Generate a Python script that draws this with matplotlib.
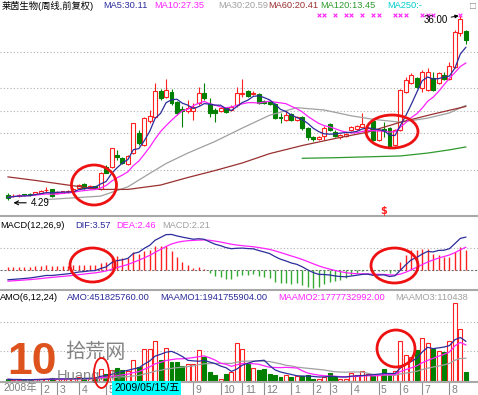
import numpy as np
import pandas as pd
import matplotlib
matplotlib.use('Agg')
import matplotlib.pyplot as plt
from matplotlib.patches import Ellipse, Rectangle
from matplotlib.transforms import blended_transform_factory

plt.rcParams['font.family'] = ['Liberation Sans', 'Noto Sans CJK SC']

# ---------------- data (weekly) ----------------
opens = [5.19, 4.95, 5.00, 5.30, 5.40, 5.30, 5.50, 6.00, 6.15, 5.50,
         5.60, 5.70, 5.95, 6.33, 7.00, 6.40, 6.70, 6.20, 10.05, 10.05,
         12.05, 11.50, 10.50, 12.35, 15.80, 13.80, 17.90, 18.65, 23.10, 22.10,
         22.95, 21.20, 20.00, 19.60, 19.70, 20.95, 22.65, 20.85, 19.80, 19.60,
         20.10, 19.80, 20.65, 22.50, 23.10, 22.60, 22.55, 21.35, 21.20, 20.80,
         18.65, 18.10, 19.10, 18.10, 18.65, 16.65, 15.20, 14.75, 15.35, 17.40,
         16.10, 15.10, 15.25, 16.35, 16.55, 16.95, 16.35, 17.95, 14.65, 16.50,
         16.65, 13.80, 16.35, 22.95, 24.40, 25.25, 23.50, 23.25, 25.25, 24.40,
         25.80, 25.10, 27.25, 33.00, 33.30]
highs = [5.59, 5.30, 5.30, 5.40, 5.50, 5.75, 6.00, 6.60, 6.30, 5.80,
         5.95, 6.05, 6.35, 7.00, 7.30, 6.85, 6.80, 9.10, 10.30, 13.30,
         12.90, 11.80, 12.00, 17.60, 16.30, 18.60, 19.80, 24.40, 23.40, 25.10,
         23.40, 21.40, 20.50, 21.50, 20.95, 23.80, 24.50, 21.80, 20.10, 20.40,
         20.30, 20.60, 23.80, 25.20, 23.30, 23.00, 22.80, 21.50, 21.40, 21.00,
         19.20, 19.80, 19.30, 18.80, 18.80, 16.80, 15.40, 15.40, 17.00, 17.60,
         16.30, 15.70, 15.90, 17.10, 17.30, 19.20, 16.80, 18.10, 16.50, 17.80,
         16.80, 16.50, 23.40, 25.50, 26.20, 25.50, 26.60, 26.95, 26.40, 26.30,
         26.40, 28.10, 33.50, 36.00, 33.60]
lows = [4.29, 4.80, 4.90, 5.00, 5.10, 5.20, 5.40, 5.50, 4.85, 5.40,
        5.50, 5.60, 5.85, 6.20, 6.20, 6.30, 6.30, 6.10, 8.90, 9.90,
        11.20, 10.50, 10.30, 12.20, 13.80, 13.60, 17.60, 18.40, 21.50, 21.90,
        20.70, 18.90, 16.95, 19.20, 18.10, 20.70, 21.60, 18.65, 17.80, 19.40,
        19.30, 19.60, 20.40, 22.00, 22.00, 22.40, 20.80, 20.90, 20.60, 18.20,
        17.50, 17.90, 17.90, 17.90, 16.35, 14.65, 14.50, 14.60, 14.65, 16.20,
        15.20, 14.90, 15.10, 16.20, 16.40, 16.80, 16.20, 14.50, 14.50, 15.20,
        13.20, 13.60, 16.20, 22.80, 24.20, 23.50, 22.95, 23.00, 23.00, 24.20,
        24.90, 24.90, 27.00, 32.60, 31.20]
closes = [4.75, 5.10, 5.15, 5.15, 5.25, 5.65, 5.85, 6.10, 4.95, 5.70,
          5.80, 5.95, 6.25, 6.90, 6.35, 6.75, 6.45, 9.00, 9.00, 13.20,
          11.65, 10.65, 11.90, 17.50, 14.10, 18.40, 18.75, 23.10, 21.80, 23.20,
          20.95, 19.20, 19.70, 20.10, 20.25, 22.65, 21.80, 19.25, 19.25, 20.20,
          19.50, 20.40, 22.65, 22.70, 22.20, 22.75, 20.95, 21.05, 20.80, 18.40,
          18.40, 18.95, 18.10, 18.65, 16.65, 15.20, 14.75, 15.20, 16.75, 16.35,
          15.35, 15.50, 15.70, 16.95, 17.10, 17.40, 16.65, 14.65, 16.35, 16.20,
          13.50, 16.35, 23.25, 24.95, 25.80, 23.80, 26.40, 26.40, 23.25, 26.10,
          25.10, 27.35, 33.20, 35.40, 31.80]
# turnover (AMO), unit: 1e8 yuan
amo = [0.8, 0.6, 0.7, 0.5, 0.6, 0.9, 1.0, 1.2, 1.4, 0.8,
       0.9, 1.0, 1.3, 1.8, 1.6, 1.4, 1.5, 6.0, 3.56, 5.17,
       6.3, 5.17, 4.85, 10.0, 6.8, 15.7, 15.7, 19.4, 10.0, 16.2,
       9.2, 9.2, 7.1, 8.4, 8.4, 15.2, 11.6, 4.4, 2.75, 1.13,
       3.56, 4.4, 18.6, 15.7, 8.1, 6.5, 5.5, 6.0, 3.2, 3.0,
       2.0, 2.75, 2.0, 2.3, 2.3, 2.75, 1.2, 1.2, 2.0, 3.9,
       2.0, 1.2, 1.2, 3.9, 2.75, 4.7, 3.6, 2.3, 2.75, 5.7,
       2.75, 4.7, 19.4, 12.5, 11.6, 15.2, 20.9, 18.4, 15.5, 14.7,
       14.0, 19.4, 38.0, 25.0, 4.52]

# long moving averages read at sample weeks (history before window not shown)
ma30_idx = [7, 12, 17, 22, 26, 29, 33, 38, 43, 48, 53, 58, 63, 67, 72, 77, 81, 84]
ma30_val = [4.4, 4.7, 5.0, 6.6, 8.9, 10.6, 12.4, 14.4, 16.7, 18.9, 20.2, 19.8, 18.8, 18.2, 17.7, 18.4, 19.3, 20.59]
ma60_idx = [0, 5, 11, 17, 22, 28, 33, 38, 43, 48, 54, 60, 66, 72, 78, 84]
ma60_val = [8.3, 7.7, 6.9, 6.15, 6.15, 6.9, 8.2, 9.4, 10.7, 12.3, 13.7, 14.9, 16.0, 17.7, 19.1, 20.41]
ma120_idx = [54, 60, 66, 72, 77, 81, 84]
ma120_val = [11.5, 11.6, 11.75, 11.9, 12.4, 12.95, 13.45]

# MACD state carried in from before the window
ema12_start, ema26_start, dea_start = 5.75, 6.85, -1.30

signal_idx = [57, 58, 60, 62, 63, 65, 67, 68, 71, 72, 73, 76, 77, 78, 83]
signal_level = 36.2
dollar_idx = 69

# month ticks (labels 6, 7, 8 of 2009 sit under the cursor date box)
month_idx = [6, 9, 13, 18, 22, 26, 30, 34, 39, 43, 47, 52, 56, 59, 63, 68, 72, 76, 81]
month_lbl = ['2', '3', '4', '5', '', '', '', '9', '10', '11', '12', '1', '2', '3', '4', '5', '6', '7', '8']

grid_main = [29.7, 23.5, 19.6, 15.8, 9.5]
grid_macd = [2.5]
grid_amo = [14.55, 28.6]

# ---------------- style ----------------
RED = '#ff2020'
GREEN = '#008000'
NAVY = '#2c2c9c'
MAG = '#ff22ff'
GRAY = '#a0a0a0'
BROWN = '#9a3030'
MGREEN = '#2e9a2e'
CYAN = '#00cccc'

W, H = 478, 395
fig = plt.figure(figsize=(W / 100, H / 100), dpi=100)
fig.patch.set_facecolor('white')

def fx(px):
    return px / W

def fy(py):
    return 1 - py / H

ax1 = fig.add_axes([0, fy(216), 1, 216 / H])
ax2 = fig.add_axes([0, fy(290), 1, (290 - 216) / H])
ax3 = fig.add_axes([0, fy(382), 1, (382 - 290) / H])

n = len(closes)
x = np.arange(n)
XL = (-8 / 5.45, (478 - 8) / 5.45)
for ax in (ax1, ax2, ax3):
    ax.set_xlim(*XL)
    for s in ('top', 'left', 'right'):
        ax.spines[s].set_visible(False)
    ax.spines['bottom'].set_color('#a8a8a8')
    ax.spines['bottom'].set_linewidth(1.5)
    ax.set_yticks([])
    ax.set_xticks([])
    ax.patch.set_alpha(0)

ax1.set_ylim(1.58, 38.71)
ax2.set_ylim(-2.26, 6.10)
ax3.set_ylim(-0.485, 44.1)

DOT = (0, (1, 2))
for g in grid_main:
    ax1.axhline(g, color='#b0b0b0', lw=0.8, ls=DOT, zorder=0)
for g in grid_macd:
    ax2.axhline(g, color='#b0b0b0', lw=0.8, ls=DOT, zorder=0)
ax2.axhline(0, color='#707070', lw=0.8, ls=(0, (2, 1.5)), zorder=0)
for g in grid_amo:
    ax3.axhline(g, color='#b0b0b0', lw=0.8, ls=DOT, zorder=0)

# ---------------- candles ----------------
BW = 0.72
for i in range(n):
    o, h, l, c = opens[i], highs[i], lows[i], closes[i]
    up = c >= o
    col = RED if up else GREEN
    top, bot = max(o, c), min(o, c)
    ax1.vlines(i, top, h, color=col, lw=0.8, zorder=2)
    ax1.vlines(i, l, bot, color=col, lw=0.8, zorder=2)
    ax1.add_patch(Rectangle((i - BW / 2, bot), BW, max(top - bot, 0.06),
                            facecolor='white' if up else col, edgecolor=col,
                            lw=0.8, zorder=3))
    ax3.add_patch(Rectangle((i - BW / 2, 0), BW, amo[i],
                            facecolor='white' if up else col, edgecolor=RED if up else col,
                            lw=0.8, zorder=2))

cs = pd.Series(closes)
ma5 = cs.rolling(5, min_periods=1).mean()
ma10 = cs.rolling(10, min_periods=1).mean()
ax1.plot(ma30_idx, ma30_val, color=GRAY, lw=0.9, zorder=4)
ax1.plot(ma60_idx, ma60_val, color=BROWN, lw=0.9, zorder=4)
ax1.plot(ma120_idx, ma120_val, color=MGREEN, lw=0.9, zorder=4)
ax1.plot(x, ma10, color=MAG, lw=0.9, zorder=5)
ax1.plot(x, ma5, color=NAVY, lw=0.9, zorder=6)

ax1.scatter(signal_idx, [signal_level] * len(signal_idx), marker='x', s=7,
            color=MAG, lw=0.8, zorder=6)
ax1.text(dollar_idx, 2.45, '$', color=RED, fontsize=7, fontweight='bold',
         ha='center', va='center', family='DejaVu Sans', zorder=6)

i_hi = int(np.argmax(highs))
ax1.annotate(f'{highs[i_hi]:.2f}', xy=(i_hi - 0.3, highs[i_hi]), xytext=(80.8, 35.3),
             fontsize=7, ha='right', va='center', color='black',
             arrowprops=dict(arrowstyle='-|>', color='black', lw=0.7, mutation_scale=5,
                             shrinkA=0, shrinkB=0), zorder=7)
i_lo = int(np.argmin(lows))
ax1.annotate(f'{lows[i_lo]:.2f}', xy=(i_lo + 1.0, 3.85), xytext=(4.1, 3.85),
             fontsize=7, ha='left', va='center', color='black',
             arrowprops=dict(arrowstyle='->', color='black', lw=0.8,
                             shrinkA=1, shrinkB=0), zorder=7)

# ---------------- MACD ----------------
e12, e26, dea = ema12_start, ema26_start, dea_start
difs, deas = [], []
for c in closes:
    e12 = e12 + 2 / 13 * (c - e12)
    e26 = e26 + 2 / 27 * (c - e26)
    d = e12 - e26
    dea = dea + 2 / 10 * (d - dea)
    difs.append(d)
    deas.append(dea)
difs = np.array(difs)
deas = np.array(deas)
macd = 2 * (difs - deas)
ax2.vlines(x, 0, macd, colors=[RED if v >= 0 else '#33aa33' for v in macd], lw=1.0, zorder=2)
ax2.plot(x, deas, color=MAG, lw=0.9, zorder=3)
ax2.plot(x, difs, color=NAVY, lw=0.9, zorder=4)

# ---------------- AMO moving averages ----------------
am = pd.Series(amo)
ax3.plot(x, am.rolling(24, min_periods=1).mean(), color=GRAY, lw=0.9, zorder=3)
ax3.plot(x, am.rolling(12, min_periods=1).mean(), color=MAG, lw=0.9, zorder=4)
ax3.plot(x, am.rolling(6, min_periods=1).mean(), color=NAVY, lw=0.9, zorder=5)

# ---------------- x axis ----------------
ax3.set_xticks(month_idx)
ax3.set_xticklabels([])
ax3.tick_params(axis='x', length=9, width=0.8, color='#909090', direction='out')
tb = blended_transform_factory(ax3.transData, ax3.transAxes)
for mi, ml in zip(month_idx, month_lbl):
    if ml:
        ax3.text(mi + 0.45, -0.03, ml, transform=tb, fontsize=7.5, color='#808080',
                 ha='left', va='top', clip_on=False)
fig.text(fx(3), fy(388), '2008年', fontsize=7.5, color='#808080', ha='left', va='center')
fig.text(fx(114), fy(388), '2009/05/15/五', fontsize=7.5, color='black', ha='left', va='center',
         bbox=dict(facecolor='#00ffff', edgecolor='none', pad=1.2), zorder=10)

# ---------------- header texts ----------------
FS = 6.7
def row(items, ypx):
    for xp, t, col in items:
        fig.text(fx(xp), fy(ypx), t, fontsize=FS, color=col, ha='left', va='center')

row([(2, '莱茵生物(周线,前复权)', 'black'), (103, 'MA5:30.11', NAVY), (154, 'MA10:27.35', MAG),
     (218, 'MA30:20.59', GRAY), (268, 'MA60:20.41', BROWN), (320, 'MA120:13.45', MGREEN),
     (387, 'MA250:-', CYAN)], 6)
fig.text(fx(470), fy(6), '□', fontsize=7, color='#808080', ha='left', va='center')
row([(0, 'MACD(12,26,9)', 'black'), (75, 'DIF:3.57', NAVY), (116, 'DEA:2.46', MAG),
     (162, 'MACD:2.21', GRAY)], 225)
row([(0, 'AMO(6,12,24)', 'black'), (67, 'AMO:451825760.00', NAVY),
     (160, 'MAAMO1:1941755904.00', NAVY), (278, 'MAAMO2:1777732992.00', MAG),
     (395, 'MAAMO3:110438', GRAY)], 297)

# ---------------- watermark ----------------
fig.text(fx(7), fy(362), '10', fontsize=32, fontweight='bold', color='#dd4a10',
         ha='left', va='center', alpha=0.95, zorder=8)
fig.text(fx(65), fy(352), '拾荒网', fontsize=14.5, color='#707070', ha='left', va='center',
         alpha=0.85, zorder=8)
fig.text(fx(57), fy(376), 'Huang.', fontsize=10.5, color='#707070', ha='left', va='center',
         alpha=0.85, zorder=8)
fig.text(fx(111), fy(376), 'N', fontsize=10.5, color='#707070', ha='left', va='center',
         alpha=0.85, zorder=8)

# ---------------- hand-drawn red circles ----------------
circles = [(94, 185, 45, 40, 2.0), (392, 131.5, 52, 33, 2.0), (92.5, 265, 45, 34, 2.0),
           (394.5, 265.5, 47, 35, 2.0), (396, 348.5, 38, 37, 2.0), (101.5, 373, 15, 30, 1.3)]
for cx, cy, w, h, lw in circles:
    fig.add_artist(Ellipse((fx(cx), fy(cy)), w / W, h / H, transform=fig.transFigure,
                           fill=False, edgecolor='#ee1111', lw=lw, zorder=9))

fig.savefig('out.png', dpi=100)
